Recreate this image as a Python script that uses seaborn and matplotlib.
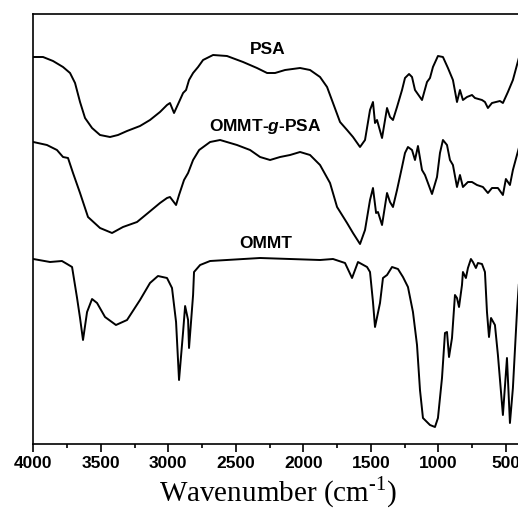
import matplotlib
matplotlib.use("Agg")
import matplotlib.pyplot as plt
import seaborn as sns
import pandas as pd

# FTIR spectra (wavenumber in cm^-1, transmittance in arbitrary offset units)
psa_wn = [4000, 3928, 3854, 3780, 3728, 3691, 3654, 3617, 3565, 3506, 3432, 3373,
          3306, 3210, 3136, 3062, 3010, 2988, 2958, 2921, 2891, 2869, 2847, 2817,
          2780, 2743, 2669, 2566, 2447, 2344, 2269, 2210, 2136, 2025, 1951, 1877,
          1825, 1781, 1729, 1677, 1633, 1581, 1544, 1507, 1485, 1470, 1455, 1418,
          1381, 1359, 1337, 1307, 1270, 1248, 1218, 1196, 1174, 1122, 1085, 1063,
          1041, 1004, 967, 930, 893, 863, 841, 819, 789, 752, 730, 678, 656, 634,
          604, 545, 523, 486, 449, 419, 405]
psa_t = [387, 387, 383, 377, 371, 361, 342, 326, 316, 309, 307, 309,
         313, 318, 324, 332, 339, 341, 331, 342, 351, 354, 364, 371,
         377, 384, 389, 388, 382, 376, 371, 371, 374, 376, 374, 367,
         357, 341, 322, 314, 307, 297, 304, 334, 342, 321, 324, 306,
         336, 327, 324, 337, 354, 366, 370, 367, 354, 344, 362, 366,
         377, 388, 387, 376, 364, 342, 354, 344, 347, 349, 346, 344, 342, 336,
         341, 343, 341, 352, 364, 379, 386]

gpsa_wn = [4000, 3899, 3825, 3780, 3743, 3706, 3654, 3595, 3506, 3417, 3336, 3232,
           3151, 3062, 3010, 2988, 2943, 2921, 2884, 2854, 2817, 2772, 2691, 2617,
           2492, 2395, 2321, 2247, 2173, 2099, 2025, 1951, 1877, 1803, 1751, 1677,
           1633, 1581, 1544, 1507, 1485, 1462, 1448, 1418, 1381, 1359, 1337, 1307,
           1270, 1248, 1226, 1196, 1174, 1152, 1122, 1100, 1078, 1048, 1011, 989,
           967, 937, 915, 893, 863, 841, 819, 782, 752, 715, 671, 634, 604, 560,
           523, 501, 471, 449, 419, 405]
gpsa_t = [302, 299, 294, 287, 286, 271, 251, 227, 216, 211, 217, 222,
          231, 241, 246, 247, 239, 249, 264, 271, 284, 294, 302, 304,
          299, 294, 287, 284, 287, 289, 292, 289, 279, 261, 237, 221,
          211, 200, 214, 244, 256, 231, 232, 219, 251, 242, 237, 254,
          277, 291, 297, 294, 284, 298, 274, 269, 261, 250, 267, 291,
          304, 299, 284, 279, 257, 269, 257, 262, 262, 259, 257, 251, 256, 256,
          249, 265, 259, 274, 289, 296]

ommt_wn = [4000, 3876, 3788, 3750, 3713, 3676, 3654, 3632, 3602, 3565, 3528, 3469,
           3388, 3306, 3210, 3136, 3077, 3010, 2973, 2943, 2921, 2891, 2876, 2854,
           2847, 2817, 2810, 2765, 2691, 2321, 1877, 1781, 1692, 1640, 1596, 1529,
           1507, 1485, 1470, 1433, 1411, 1381, 1344, 1300, 1263, 1226, 1189, 1159,
           1137, 1115, 1063, 1026, 1004, 974, 952, 937, 922, 900, 878, 863, 848,
           826, 819, 797, 782, 760, 745, 723, 708, 678, 656, 641, 626, 611, 582,
           560, 523, 493, 471, 449, 419, 405]
ommt_t = [185, 182, 183, 180, 177, 146, 126, 104, 132, 145, 141, 127,
          119, 124, 144, 161, 168, 166, 156, 122, 64, 112, 138, 124,
          96, 149, 172, 179, 183, 186, 184, 185, 181, 166, 182, 177,
          172, 142, 117, 141, 166, 169, 177, 175, 167, 157, 132, 99,
          54, 26, 19, 17, 26, 66, 111, 112, 87, 106, 149, 146, 137,
          159, 172, 166, 176, 185, 182, 176, 181, 180, 172, 132, 107, 126, 119,
          89, 29, 86, 21, 56, 132, 160]

labels = ["PSA", "OMMT-$\\mathit{g}$-PSA", "OMMT"]
label_pos = [(2268, 395), (2280, 317), (2277, 201)]

xticks = [4000, 3500, 3000, 2500, 2000, 1500, 1000, 500]

sns.set_style("ticks")
plt.rcParams["font.family"] = ["Liberation Sans", "DejaVu Sans"]
plt.rcParams["mathtext.fontset"] = "custom"
plt.rcParams["mathtext.rm"] = "Liberation Serif"
plt.rcParams["mathtext.it"] = "Liberation Sans:italic:bold"
for key in ["text.color", "axes.labelcolor", "xtick.color", "ytick.color",
            "axes.edgecolor"]:
    plt.rcParams[key] = "black"

frames = [
    pd.DataFrame({"wn": psa_wn, "t": psa_t, "sample": "PSA"}),
    pd.DataFrame({"wn": gpsa_wn, "t": gpsa_t, "sample": "OMMT-g-PSA"}),
    pd.DataFrame({"wn": ommt_wn, "t": ommt_t, "sample": "OMMT"}),
]
df = pd.concat(frames, ignore_index=True)

fig = plt.figure(figsize=(5.18, 5.32), dpi=100)
W, H = 518, 532
ax = fig.add_axes([33.3 / W, (H - 444) / H, (522 - 33.3) / W, (444 - 14) / H])

for name in ["PSA", "OMMT-g-PSA", "OMMT"]:
    sub = df[df["sample"] == name]
    sns.lineplot(data=sub, x="wn", y="t", ax=ax, color="black", lw=1.4,
                 estimator=None, sort=False, legend=False)

ax.set_xlim(4000, 4000 - (522 - 33.3) * 7.404)
ax.set_ylim(0, 430)

ax.set_xticks(xticks)
ax.set_xticklabels([str(v) for v in xticks], fontsize=12.5, fontweight="bold")
ax.set_xticks([3750, 3250, 2750, 2250, 1750, 1250, 750], minor=True)
ax.tick_params(axis="x", which="major", direction="out", length=6, width=1.2,
               pad=3)
ax.tick_params(axis="x", which="minor", direction="out", length=3, width=1.2)
ax.set_yticks([])
ax.set_ylabel("")
ax.set_xlabel("Wavenumber (cm$^{\\mathregular{\\text{-}1}}$)", fontsize=21,
              family="Liberation Serif", labelpad=2)

for sp in ax.spines.values():
    sp.set_linewidth(1.2)

for text, (x, y) in zip(labels, label_pos):
    ax.text(x, y, text, ha="center", va="center", fontsize=12.5,
            fontweight="bold")

fig.savefig("out.png", dpi=100)
